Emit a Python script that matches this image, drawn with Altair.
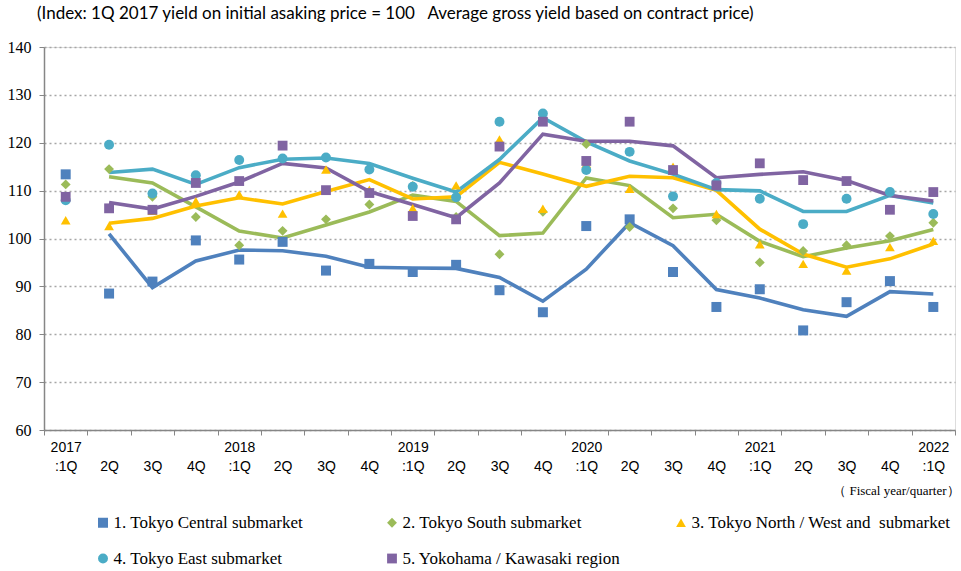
import altair as alt
import pandas as pd

periods = ["2017 :1Q", "2017 2Q", "2017 3Q", "2017 4Q",
           "2018 :1Q", "2018 2Q", "2018 3Q", "2018 4Q",
           "2019 :1Q", "2019 2Q", "2019 3Q", "2019 4Q",
           "2020 :1Q", "2020 2Q", "2020 3Q", "2020 4Q",
           "2021 :1Q", "2021 2Q", "2021 3Q", "2021 4Q",
           "2022 :1Q"]

names = ["1. Tokyo Central submarket",
         "2. Tokyo South submarket",
         "3. Tokyo North / West and\u00a0 submarket",
         "4. Tokyo East submarket",
         "5. Yokohama / Kawasaki region"]

central = [113.4, 88.5, 91.0, 99.6, 95.6, 99.3, 93.3, 94.7, 93.0, 94.5, 89.2,
           84.6, 102.6, 104.0, 93.0, 85.7, 89.4, 80.8, 86.7, 91.1, 85.7]
south = [111.3, 114.5, 108.7, 104.5, 98.6, 101.6, 104.0, 107.1, 111.0, 104.5, 96.7,
         105.6, 119.7, 102.4, 106.3, 103.8, 95.0, 97.4, 98.6, 100.5, 103.3]
north_west = [103.8, 102.6, 105.8, 107.8, 109.2, 105.2, 114.4, 110.2, 106.3, 111.1, 120.7,
              106.2, 115.6, 110.4, 115.0, 105.1, 98.8, 94.7, 93.3, 98.2, 99.5]
east = [108.0, 119.6, 109.4, 113.2, 116.4, 116.7, 116.9, 114.4, 110.8, 108.6, 124.4,
        126.1, 114.3, 118.1, 108.8, 111.6, 108.3, 103.0, 108.3, 109.7, 105.1]
yokohama = [108.7, 106.3, 106.0, 111.6, 112.0, 119.4, 110.1, 109.5, 104.7, 104.0, 119.2,
            124.4, 116.2, 124.4, 114.3, 111.1, 115.7, 112.2, 112.0, 106.0, 109.7]

colors = ["#4F81BD", "#9BBB59", "#FFC000", "#4BACC6", "#8064A2"]
shapes = ["square", "diamond", "triangle-up", "circle", "square"]
sizes = [100, 130, 110, 95, 100]

# legend is laid out column by column (2 rows): 1,4 | 2,5 | 3
legend_order = [0, 3, 1, 4, 2]
dom = [names[k] for k in legend_order]
col_range = [colors[k] for k in legend_order]
shape_range = [shapes[k] for k in legend_order]
size_range = [sizes[k] for k in legend_order]

rows = []
for name, vals in zip(names, [central, south, north_west, east, yokohama]):
    for i, (p, v) in enumerate(zip(periods, vals)):
        rows.append({"period": p, "idx": i, "series": name, "value": v})
df = pd.DataFrame(rows)

label_expr = (
    "isString(datum.value) ? (indexof(datum.value, ':') >= 0 ? "
    "split(datum.value, ' ') : ['', split(datum.value, ' ')[1]]) : ''"
)

x_axis = alt.Axis(
    labelExpr=label_expr,
    labelAngle=0, tickBand="extent", labelOverlap=False, labelFlush=False,
    domainColor="#868686", domainWidth=1.5, tickColor="#868686", tickSize=5,
    labelFont="Liberation Sans", labelFontSize=14, labelLineHeight=19,
    labelPadding=5, labelColor="#000000", labelBaseline="top",
    title="（ Fiscal year/quarter）", titleFont="Liberation Serif",
    titleFontSize=13, titleFontWeight="normal", titleColor="#000000",
    titleAnchor="end", titleAlign="right", titleX=915, titleY=60,
    titleBaseline="middle",
)
y_axis = alt.Axis(
    values=list(range(60, 141, 10)), grid=True, gridDash=[2, 3],
    gridColor="#A6A6A6", gridWidth=1.3,
    domainColor="#868686", domainWidth=1.5, tickColor="#868686", tickSize=5,
    labelFont="Liberation Serif", labelFontSize=16, labelColor="#000000",
    labelPadding=8, title=None,
)
y_scale = alt.Scale(domain=[60, 140], nice=False, zero=False)
x_scale = alt.Scale(type="band", paddingInner=0, paddingOuter=0)

legend = alt.Legend(
    title=None, orient="none", legendX=50.5, legendY=467, columns=3,
    gridAlign="all", columnPadding=10, rowPadding=18,
    symbolSize=50, symbolStrokeWidth=0,
    labelFont="Liberation Serif", labelFontSize=17, labelColor="#000000",
    labelOffset=2, labelLimit=500,
)

lines = alt.Chart(df).transform_window(
    ma="mean(value)", n="count()", frame=[-1, 0],
    groupby=["series"], sort=[alt.SortField("idx")],
).transform_filter("datum.n == 2").mark_line(strokeWidth=3.6).encode(
    x=alt.X("period:N", sort=periods, scale=x_scale, axis=x_axis),
    y=alt.Y("ma:Q", scale=y_scale, axis=y_axis),
    color=alt.Color("series:N", scale=alt.Scale(domain=dom, range=col_range), legend=legend),
    detail="series:N",
)

points = alt.Chart(df).transform_calculate(
    marker="datum.series"
).mark_point(filled=True, opacity=1, strokeWidth=0).encode(
    x=alt.X("period:N", sort=periods, scale=x_scale, axis=x_axis),
    y=alt.Y("value:Q", scale=y_scale, axis=y_axis),
    color=alt.Color("series:N", scale=alt.Scale(domain=dom, range=col_range), legend=legend),
    shape=alt.Shape("series:N", scale=alt.Scale(domain=dom, range=shape_range), legend=legend),
    size=alt.Size("marker:N", scale=alt.Scale(domain=dom, range=size_range), legend=None),
    order=alt.Order("idx:Q"),
)

chart = alt.layer(lines, points).properties(
    width=911, height=383,
    autosize=alt.AutoSizeParams(type="none"),
    padding={"left": 44, "top": 47, "right": 6, "bottom": 141},
    title=alt.TitleParams(
        text="(Index: 1Q 2017 yield on initial asaking price = 100\u00a0\u00a0\u00a0Average gross yield based on contract price)",
        anchor="start", frame="group", dx=-7, offset=16,
        font="Lato", fontSize=17, fontWeight="normal", color="#000000",
    ),
).configure_view(stroke=None).configure(background="white").configure_axisY(
    labelFont="Liberation Serif", labelFontSize=16
).configure_axisX(
    labelFont="Liberation Sans", labelFontSize=14
)

chart.save("out.html", embed_options={"renderer": "svg", "actions": False})
